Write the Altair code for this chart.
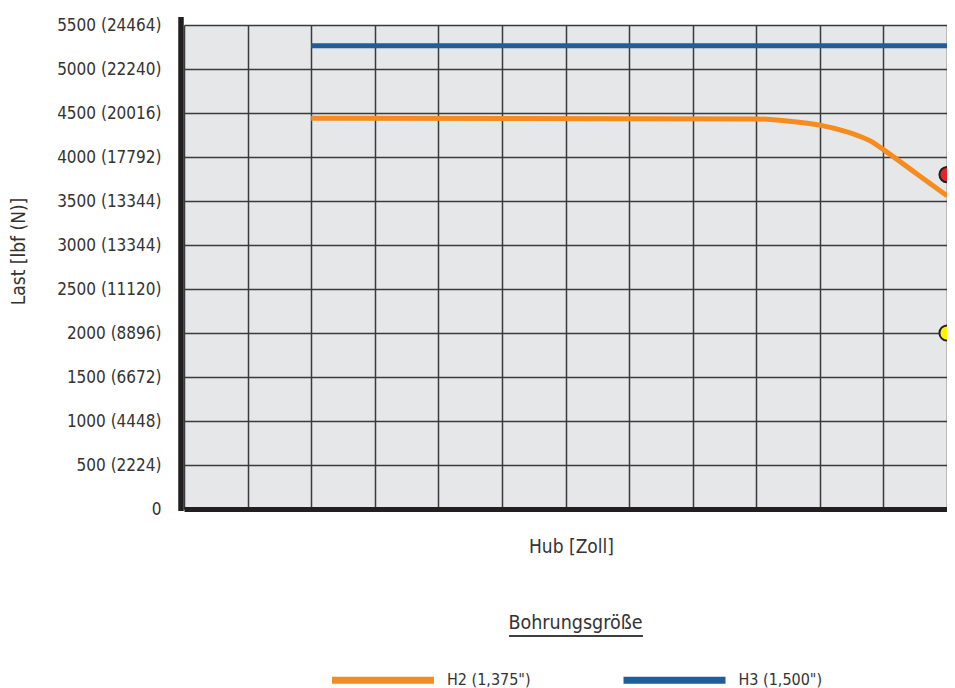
import altair as alt
import pandas as pd

# ---- data ----
series_names = ['H2 (1,375")', 'H3 (1,500")']
series_colors = ["#f68b1f", "#235c96"]

h2_x = [2, 9, 9.5, 10, 10.4, 10.62, 10.82, 11.01, 11.5, 12]
h2_y = [4440, 4432, 4408, 4362, 4291, 4237, 4172, 4078, 3822, 3560]

h3_x = [2, 12]
h3_y = [5265, 5265]

point_x = [12, 12]
point_y = [3800, 2000]
point_fill = ["#e8232a", "#fff200"]

y_tick_values = [0, 500, 1000, 1500, 2000, 2500, 3000, 3500, 4000, 4500, 5000, 5500]
y_tick_labels = ["0", "500 (2224)", "1000 (4448)", "1500 (6672)", "2000 (8896)",
                 "2500 (11120)", "3000 (13344)", "3500 (13344)", "4000 (17792)",
                 "4500 (20016)", "5000 (22240)", "5500 (24464)"]
x_tick_values = list(range(0, 13))

FONT = "DejaVu Sans Condensed, Liberation Sans Narrow, Roboto"
TXT = "#333333"
DARK = "#231f20"

lines_df = pd.DataFrame(
    {"x": h2_x + h3_x,
     "y": h2_y + h3_y,
     "series": [series_names[0]] * len(h2_x) + [series_names[1]] * len(h3_x)}
)
points_df = pd.DataFrame({"x": point_x, "y": point_y, "fill": point_fill})

label_expr = "[" + ",".join("'" + l + "'" for l in y_tick_labels) + "][round(datum.value / 500)]"

W, H = 763, 484

x_enc = alt.X(
    "x:Q",
    scale=alt.Scale(domain=[0, 12], nice=False, zero=False),
    axis=alt.Axis(
        values=x_tick_values, labels=False, ticks=False, grid=True,
        domain=True, domainColor=DARK, domainWidth=5,
        title="Hub [Zoll]", titleX=387, titleY=37, titleBaseline="middle",
        titleAlign="center", titleAnchor="start", titleFontSize=19,
    ),
)
y_enc = alt.Y(
    "y:Q",
    scale=alt.Scale(domain=[0, 5500], nice=False),
    axis=alt.Axis(
        values=y_tick_values, labelExpr=label_expr, ticks=False, tickSize=0,
        labelPadding=23, grid=True, domain=False, labelFontSize=17,
        title="Last [lbf (N)]", titleX=-166, titleY=226, titleAngle=270,
        titleBaseline="middle", titleAlign="center", titleAnchor="start",
        titleFontSize=19,
    ),
)

lines = alt.Chart(lines_df).mark_line(
    strokeWidth=5, clip=True, interpolate="monotone", strokeCap="butt"
).encode(
    x=x_enc,
    y=y_enc,
    color=alt.Color(
        "series:N",
        scale=alt.Scale(domain=series_names, range=series_colors),
        legend=alt.Legend(
            title="Bohrungsgröße", orient="none", legendX=144.5, legendY=589,
            direction="horizontal", titleAnchor="middle", titlePadding=-8,
            symbolType="stroke", symbolSize=10404, symbolStrokeWidth=7,
            labelOffset=9.5, columnPadding=77.5, padding=0,
            labelFontSize=16, titleFontSize=19.5,
        ),
    ),
    detail="series:N",
)

points = alt.Chart(points_df).mark_circle(
    size=230, opacity=1, stroke=DARK, strokeWidth=2, clip=True
).encode(
    x=alt.X("x:Q"),
    y=alt.Y("y:Q"),
    fill=alt.Fill("fill:N", scale=None),
)

left_axis = alt.Chart(points_df).mark_rule(color=DARK, strokeWidth=5).encode(
    x=alt.value(-3), y=alt.value(-8), y2=alt.value(H + 2)
)

title_underline = alt.Chart(points_df).mark_rule(color=TXT, strokeWidth=1.3).encode(
    x=alt.value(325), x2=alt.value(459), y=alt.value(611)
)

chart = alt.layer(lines, points, left_axis, title_underline).properties(
    width=W, height=H,
    autosize=alt.AutoSizeParams(type="none"),
    padding={"left": 176, "top": 17, "right": 0, "bottom": 179},
).configure_view(
    fill="#e6e7e9", strokeWidth=0
).configure_axis(
    gridColor="#3a3a3a", gridWidth=1.5, gridOpacity=1,
    labelFont=FONT, labelColor=TXT,
    titleFont=FONT, titleColor=TXT, titleFontWeight="normal",
).configure_legend(
    labelFont=FONT, labelColor=TXT,
    titleFont=FONT, titleColor=TXT, titleFontWeight="normal",
)

chart.save("out.html", embed_options={"renderer": "svg", "actions": False})
